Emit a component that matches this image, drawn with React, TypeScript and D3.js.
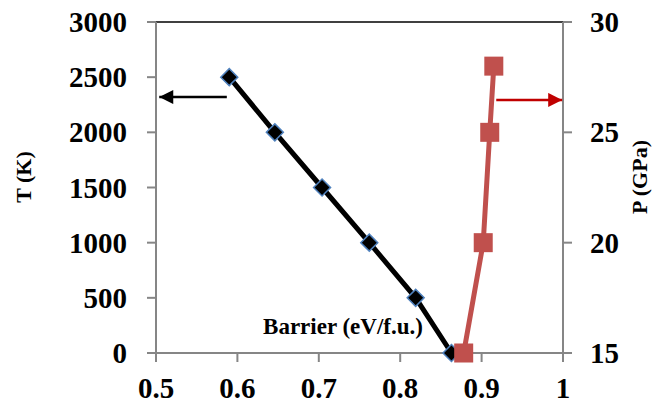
import React from 'react';
import * as d3 from 'd3';

// barrier (eV/f.u.) vs temperature
const tempBarrier = [0.59, 0.646, 0.704, 0.762, 0.819, 0.863];
const tempValues = [2500, 2000, 1500, 1000, 500, 0];

// barrier (eV/f.u.) vs pressure
const presBarrier = [0.878, 0.902, 0.91, 0.915];
const presValues = [15, 20, 25, 28];

const xTicks = [0.5, 0.6, 0.7, 0.8, 0.9, 1];
const tTicks = [0, 500, 1000, 1500, 2000, 2500, 3000];
const pTicks = [15, 20, 25, 30];

const W = 653;
const H = 405;
const margin = { top: 22, right: 90, bottom: 52, left: 156 };
const font = '"Times New Roman", "Liberation Serif", serif';
const axisGray = '#868686';
const red = '#C0504D';

const App = () => {
  const x = d3.scaleLinear().domain([0.5, 1]).range([margin.left, W - margin.right]);
  const yT = d3.scaleLinear().domain([0, 3000]).range([H - margin.bottom, margin.top]);
  const yP = d3.scaleLinear().domain([15, 30]).range([H - margin.bottom, margin.top]);

  const tLine = d3.line<number>()
    .x((_, i) => x(tempBarrier[i]))
    .y(d => yT(d));
  const pLine = d3.line<number>()
    .x((_, i) => x(presBarrier[i]))
    .y(d => yP(d));

  const x0 = margin.left;
  const x1 = W - margin.right;
  const yBot = H - margin.bottom;

  const leftArrowY = yT(2320);
  const rightArrowY = yP(26.47);

  return (
    <svg width={W} height={H} style={{ position: 'absolute', left: 0, top: 0, background: '#fff' }}
      fontFamily={font} fontWeight="bold">
      <defs>
        <marker id="arrK" viewBox="0 0 10 10" refX="10" refY="5" markerWidth="15" markerHeight="14"
          markerUnits="userSpaceOnUse" orient="auto">
          <path d="M0,0 L10,5 L0,10 Z" fill="#000" />
        </marker>
        <marker id="arrR" viewBox="0 0 10 10" refX="10" refY="5" markerWidth="15" markerHeight="14"
          markerUnits="userSpaceOnUse" orient="auto">
          <path d="M0,0 L10,5 L0,10 Z" fill="#C00000" />
        </marker>
      </defs>

      {/* frame */}
      <line x1={x0} x2={x1} y1={margin.top} y2={margin.top} stroke="#000" strokeWidth={1.5} />
      <line x1={x0} x2={x0} y1={margin.top} y2={yBot + 9} stroke={axisGray} strokeWidth={2} />
      <line x1={x1} x2={x1} y1={margin.top} y2={yBot + 9} stroke={axisGray} strokeWidth={2} />
      <line x1={x0 - 9} x2={x1 + 9} y1={yBot} y2={yBot} stroke={axisGray} strokeWidth={2} />

      {/* left axis */}
      {tTicks.map(t => (
        <g key={'t' + t}>
          <line x1={x0 - 9} x2={x0} y1={yT(t)} y2={yT(t)} stroke={axisGray} strokeWidth={2} />
          <text x={x0 - 29} y={yT(t)} dy="0.35em" textAnchor="end" fontSize={29}>{t}</text>
        </g>
      ))}

      {/* right axis */}
      {pTicks.map(p => (
        <g key={'p' + p}>
          <line x1={x1} x2={x1 + 9} y1={yP(p)} y2={yP(p)} stroke={axisGray} strokeWidth={2} />
          <text x={x1 + 27} y={yP(p)} dy="0.35em" textAnchor="start" fontSize={29}>{p}</text>
        </g>
      ))}

      {/* bottom axis */}
      {xTicks.map(v => (
        <g key={'x' + v}>
          <line x1={x(v)} x2={x(v)} y1={yBot} y2={yBot + 9} stroke={axisGray} strokeWidth={2} />
          <text x={x(v)} y={398} textAnchor="middle" fontSize={29}>{v}</text>
        </g>
      ))}

      {/* axis titles */}
      <text transform={`translate(31,177) rotate(-90)`} textAnchor="middle" fontSize={22}>T (K)</text>
      <text transform={`translate(647,177) rotate(-90)`} textAnchor="middle" fontSize={22}>P (GPa)</text>
      <text x={343} y={334} textAnchor="middle" fontSize={23}>Barrier (eV/f.u.)</text>

      {/* arrows */}
      <line x1={x(0.587)} x2={x(0.504)} y1={leftArrowY} y2={leftArrowY} stroke="#000" strokeWidth={2.5}
        markerEnd="url(#arrK)" />
      <line x1={x(0.918)} x2={x(0.999)} y1={rightArrowY} y2={rightArrowY} stroke="#C00000" strokeWidth={2.5}
        markerEnd="url(#arrR)" />

      {/* temperature series */}
      <path d={tLine(tempValues) ?? ''} fill="none" stroke="#000" strokeWidth={5} />
      {tempValues.map((t, i) => (
        <rect key={'d' + i} x={-6} y={-6} width={12} height={12}
          transform={`translate(${x(tempBarrier[i])},${yT(t)}) rotate(45)`}
          fill="#000" stroke="#4F81BD" strokeWidth={1.5} />
      ))}

      {/* pressure series */}
      <path d={pLine(presValues) ?? ''} fill="none" stroke={red} strokeWidth={5} />
      {presValues.map((p, i) => (
        <rect key={'s' + i} x={x(presBarrier[i]) - 9.5} y={yP(p) - 9.5} width={19} height={19} fill={red} />
      ))}
    </svg>
  );
};

export default App;
